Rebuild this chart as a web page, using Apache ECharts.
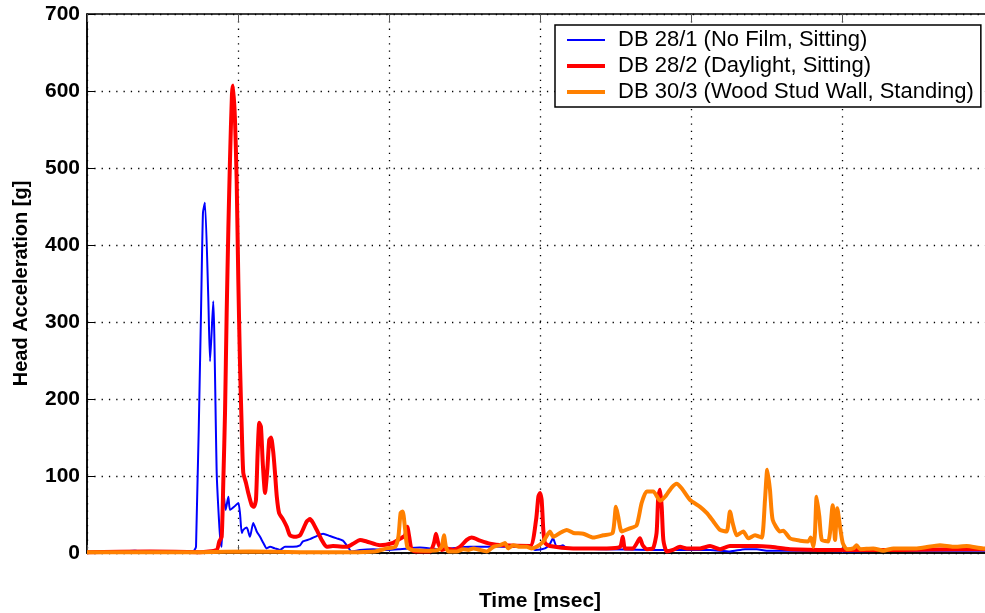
<!DOCTYPE html>
<html>
<head>
<meta charset="utf-8">
<script src="https://cdn.jsdelivr.net/npm/echarts@6/dist/echarts.min.js"></script>
<style>
  html, body { margin: 0; padding: 0; background: #fff; }
  #chart { width: 985px; height: 613px; }
</style>
</head>
<body>
<div id="chart"></div>
<script>
// Head acceleration traces (time in msec, acceleration in g)
const seriesNames = [
  'DB 28/1 (No Film, Sitting)',
  'DB 28/2 (Daylight, Sitting)',
  'DB 30/3 (Wood Stud Wall, Standing)'
];

const noFilmTime = [0, 1.52, 3.18, 4.17, 6.49, 7.02, 7.22, 7.55, 7.68, 7.81, 8.03, 8.15, 8.36, 8.59, 8.74, 8.85, 8.92, 9.03, 9.18, 9.36, 9.47, 9.74, 10.02, 10.13, 10.25, 10.35, 10.58, 10.79, 11.01, 11.24, 11.46, 11.68, 11.90, 12.12, 12.45, 12.78, 13.11, 13.64, 14.11, 14.30, 14.77, 15.21, 15.63, 16.09, 16.54, 16.95, 17.20, 17.53, 18.08, 18.94, 19.85, 20.73, 22.05, 23.38, 25.36, 26.69, 29.34, 29.67, 30.33, 30.66, 30.86, 31.11, 31.32, 31.52, 31.77, 34.0, 37.28, 39.93, 41.26, 42.58, 43.58, 44.35, 45.01, 47.22, 50.53, 53.84, 60];
const noFilmAccel = [0, 1, 3, 1, 2, 2, 8, 312, 442, 455, 333, 249, 327, 104, 43, 13, 8, 80, 56, 73, 56, 60, 65, 52, 26, 30, 33, 21, 39, 28, 21, 13, 6, 8, 6, 4, 8, 8, 10, 15, 18, 22, 25, 22, 19, 16, 10, 2, 4, 5, 4, 5, 7, 5, 8, 8, 8, 4, 6, 12, 19, 8, 9, 10, 6, 5, 4, 4, 4, 2, 5, 5, 3, 3, 2, 3, 3];

const daylightTime = [0, 4.17, 7.48, 8.59, 8.76, 8.92, 9.03, 9.14, 9.25, 9.36, 9.47, 9.60, 9.67, 9.80, 9.91, 10.02, 10.13, 10.25, 10.35, 10.53, 10.68, 10.91, 11.06, 11.19, 11.30, 11.41, 11.52, 11.64, 11.79, 11.94, 12.07, 12.19, 12.34, 12.45, 12.57, 12.72, 13.0, 13.23, 13.44, 13.77, 14.11, 14.55, 14.77, 14.97, 15.21, 15.54, 15.87, 16.29, 17.20, 17.62, 18.08, 18.52, 19.40, 20.26, 20.60, 21.06, 21.21, 21.34, 21.50, 21.83, 22.72, 22.98, 23.11, 23.26, 23.49, 23.82, 24.26, 24.70, 25.15, 25.48, 26.03, 26.69, 27.57, 29.34, 29.74, 29.89, 30.0, 30.11, 30.22, 30.33, 30.66, 32.19, 34.42, 35.30, 35.48, 35.63, 36.16, 36.62, 36.80, 37.07, 37.48, 37.72, 37.83, 37.95, 38.06, 38.17, 38.39, 38.81, 39.27, 39.72, 40.60, 41.26, 41.92, 42.58, 44.35, 45.23, 46.56, 49.21, 53.84, 57.81, 60];
const daylightAccel = [1, 2, 1, 4, 15, 21, 95, 182, 312, 420, 511, 596, 607, 563, 485, 355, 247, 160, 104, 91, 78, 62, 60, 69, 130, 169, 164, 117, 78, 108, 147, 150, 130, 104, 73, 52, 43, 34, 23, 21, 23, 41, 44, 39, 30, 17, 8, 9, 8, 12, 17, 15, 10, 13, 17, 23, 34, 21, 4, 2, 2, 13, 25, 13, 4, 6, 4, 8, 17, 20, 16, 12, 10, 9, 43, 73, 78, 69, 30, 13, 9, 6, 6, 8, 21, 6, 6, 19, 10, 5, 6, 26, 73, 82, 60, 17, 2, 4, 8, 6, 6, 9, 5, 9, 9, 8, 5, 4, 4, 5, 5];

const studWallTime = [0, 7.48, 10.79, 14.11, 17.42, 19.07, 19.85, 20.40, 20.62, 20.77, 20.91, 21.06, 21.21, 21.50, 22.72, 23.26, 23.49, 23.64, 23.77, 23.93, 24.48, 24.92, 25.25, 25.58, 26.03, 26.47, 26.91, 27.35, 27.68, 27.90, 28.23, 28.68, 29.12, 29.45, 29.78, 30.22, 30.66, 30.88, 31.32, 31.77, 32.21, 32.87, 33.53, 34.19, 34.81, 35.03, 35.18, 35.41, 35.96, 36.40, 36.73, 37.07, 37.50, 37.95, 38.28, 38.72, 39.05, 39.38, 39.93, 40.60, 41.04, 41.48, 41.92, 42.36, 42.58, 42.76, 43.03, 43.46, 43.80, 44.24, 44.68, 44.90, 45.05, 45.23, 45.41, 45.89, 46.11, 46.56, 47.22, 47.77, 47.93, 48.11, 48.21, 48.32, 48.50, 48.66, 49.09, 49.38, 49.54, 49.69, 49.87, 50.05, 50.31, 50.75, 50.97, 51.19, 52.07, 52.73, 53.40, 54.95, 56.49, 57.37, 58.26, 59.36, 60];
const studWallAccel = [1, 1, 2, 1, 1, 2, 6, 8, 21, 52, 54, 32, 8, 4, 3, 4, 8, 23, 8, 2, 2, 5, 4, 6, 4, 2, 8, 10, 13, 6, 10, 8, 8, 6, 8, 15, 28, 21, 26, 30, 26, 25, 20, 23, 26, 60, 47, 28, 32, 36, 65, 80, 80, 68, 73, 85, 90, 84, 69, 60, 52, 41, 30, 28, 54, 39, 23, 28, 19, 23, 20, 69, 108, 82, 43, 28, 29, 19, 16, 15, 20, 8, 26, 73, 47, 17, 15, 62, 17, 58, 34, 13, 5, 6, 10, 5, 6, 3, 6, 6, 10, 8, 9, 6, 6];

// Axis ranges and tick spacing
const timeMin = 0, timeMax = 60, timeStep = 10;
const accelMin = 0, accelMax = 700, accelStep = 100;

// Per-trace colour and stroke width
const lineColors = ['#0000ff', '#ff0000', '#ff8000'];
const lineWidths = [2, 4, 4];

const zip = (xs, ys) => xs.map((x, i) => [x, ys[i]]);

const dotted = { color: '#000', width: 1.3, type: [1.3, 6] };
const font = 'Arial, "Liberation Sans", Helvetica, sans-serif';

const traces = [
  zip(noFilmTime, noFilmAccel),
  zip(daylightTime, daylightAccel),
  zip(studWallTime, studWallAccel)
];

const chart = echarts.init(document.getElementById('chart'), null, { renderer: 'canvas' });

chart.setOption({
  animation: false,
  backgroundColor: '#fff',
  textStyle: { fontFamily: font },
  grid: {
    left: 87, top: 14, right: -8, bottom: 60,
    outerBoundsMode: 'none',
    show: true, borderColor: '#000', borderWidth: 1.5, backgroundColor: 'transparent'
  },
  legend: {
    data: seriesNames.map((name, i) => ({
      name,
      lineStyle: { color: lineColors[i], width: lineWidths[i] }
    })),
    orient: 'vertical',
    left: 555, top: 25,
    backgroundColor: '#fff',
    borderColor: '#000', borderWidth: 1.5, borderRadius: 0,
    padding: [4, 7, 4, 10],
    itemWidth: 38, itemHeight: 14, itemGap: 4,
    itemStyle: { opacity: 0 },
    textStyle: { fontFamily: font, fontSize: 22, color: '#000', lineHeight: 22, padding: [0, 0, 0, 8] }
  },
  xAxis: [{
    type: 'value', min: timeMin, max: timeMax, interval: timeStep,
    name: 'Time [msec]', nameLocation: 'middle', nameGap: 38,
    nameTextStyle: { fontFamily: font, fontSize: 21, fontWeight: 'bold', color: '#000' },
    axisLine: { show: true, lineStyle: { color: '#000', width: 1.5 } },
    axisTick: { show: true, inside: true, length: 8, lineStyle: { color: '#555', width: 1 } },
    axisLabel: { show: false },
    splitLine: { show: true, lineStyle: dotted }
  }, {
    type: 'value', position: 'top', min: timeMin, max: timeMax, interval: timeStep,
    axisLine: { show: false },
    axisTick: { show: true, inside: true, length: 8, lineStyle: { color: '#555', width: 1 } },
    axisLabel: { show: false }, splitLine: { show: false }
  }],
  yAxis: {
    type: 'value', min: accelMin, max: accelMax, interval: accelStep,
    name: 'Head Acceleration [g]', nameLocation: 'middle', nameGap: 56,
    nameTextStyle: { fontFamily: font, fontSize: 20, fontWeight: 'bold', color: '#000' },
    axisLine: { show: true, lineStyle: { color: '#000', width: 1.5 } },
    axisTick: { show: true, inside: true, length: 8, lineStyle: { color: '#000', width: 1 } },
    axisLabel: { fontFamily: font, fontSize: 21, fontWeight: 'bold', color: '#000', margin: 7 },
    splitLine: { show: true, lineStyle: dotted }
  },
  series: traces.map((data, i) => ({
    name: seriesNames[i], type: 'line', data,
    symbol: 'none', smooth: 0.2, color: lineColors[i],
    lineStyle: { color: lineColors[i], width: lineWidths[i] }
  }))
});
</script>
</body>
</html>
